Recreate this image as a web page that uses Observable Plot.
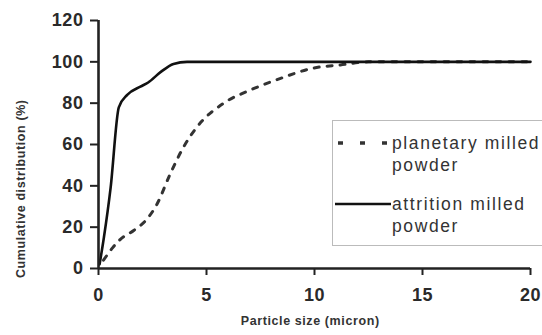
<!DOCTYPE html>
<html>
<head>
<meta charset="utf-8">
<script src="https://cdn.jsdelivr.net/npm/d3@7"></script>
<script src="https://cdn.jsdelivr.net/npm/@observablehq/plot@0.6"></script>
<style>
  html, body { margin: 0; padding: 0; background: #fff; }
  #wrap { position: relative; width: 542px; height: 335px; overflow: hidden; font-family: "Liberation Sans", Arial, sans-serif; }
  #legend { position: absolute; left: 332px; top: 120px; width: 230px; height: 126px; border: 1px solid #bbb; box-sizing: border-box; background: #fff; }
  .item { position: absolute; left: 0; font-size: 17.5px; letter-spacing: 1.6px; color: #333; line-height: 22px; }
  .item svg { position: absolute; left: 0px; }
  .item .lbl { position: absolute; left: 59px; white-space: nowrap; }
  svg text { letter-spacing: 0.6px; }
</style>
</head>
<body>
<div id="wrap"></div>
<script>
const attritionX = [0.05, 0.25, 0.56, 0.94, 1.33, 1.94, 2.3, 2.87, 3.47, 4.1, 6, 10, 15, 20];
const attritionY = [2, 15, 39, 78, 84, 88, 90, 95, 99, 100, 100, 100, 100, 100];
const planetaryX = [0.23, 0.65, 1.0, 1.63, 2.25, 2.7, 3.33, 3.95, 4.57, 5.8, 7.04, 8.43, 9.96, 11.2, 12.5, 15, 20];
const planetaryY = [4, 10, 14, 18.4, 24, 31, 46, 59, 68.6, 80, 86.4, 92, 97, 98.5, 100, 100, 100];
const xTicks = [0, 5, 10, 15, 20];
const yTicks = [0, 20, 40, 60, 80, 100, 120];
const seriesNames = ["planetary milled powder", "attrition milled powder"];

const attrition = attritionX.map((x, i) => ({x, y: attritionY[i]}));
const planetary = planetaryX.map((x, i) => ({x, y: planetaryY[i]}));

const chart = Plot.plot({
  width: 542,
  height: 335,
  marginLeft: 98,
  marginRight: 12,
  marginTop: 20,
  marginBottom: 67,
  style: {fontFamily: "'Liberation Sans', Arial, sans-serif", color: "#2a2a2a", background: "#fff"},
  x: {domain: [0, 20]},
  y: {domain: [0, 120]},
  marks: [
    Plot.line(planetary, {x: "x", y: "y", stroke: "#333", strokeWidth: 3, strokeDasharray: "5,8", curve: "monotone-x"}),
    Plot.line(attrition, {x: "x", y: "y", stroke: "#111", strokeWidth: 2.6, curve: "monotone-x"}),
    Plot.ruleY([0], {stroke: "#222", strokeWidth: 2.6}),
    Plot.ruleX([0], {stroke: "#222", strokeWidth: 2.6, y1: 0, y2: 120}),
    Plot.axisY({ticks: yTicks, tickSize: 8, tickPadding: 7, fontSize: 18, fontWeight: "bold", stroke: "#222", strokeWidth: 2, label: null}),
    Plot.axisX({ticks: xTicks, tickSize: 7, tickPadding: 13, fontSize: 18, fontWeight: "bold", stroke: "#222", strokeWidth: 2, label: null}),
    Plot.text(["Particle size (micron)"], {x: () => 9.8, y: () => -25.5, fontSize: 12.5, fontWeight: "bold", fill: "#333"}),
    Plot.text(["Cumulative distribution (%)"], {x: () => -3.6, y: () => 38.6, rotate: -90, fontSize: 12.5, fontWeight: "bold", fill: "#333"})
  ]
});

const wrap = document.getElementById("wrap");
wrap.appendChild(chart);

const legend = document.createElement("div");
legend.id = "legend";
legend.innerHTML = `
  <div class="item" style="top:11px">
    <svg width="58" height="22"><line x1="5" y1="11" x2="58" y2="11" stroke="#333" stroke-width="3.5" stroke-dasharray="5,17"/></svg>
    <div class="lbl">${seriesNames[0].replace("milled ", "milled<br>")}</div>
  </div>
  <div class="item" style="top:72px">
    <svg width="58" height="22"><line x1="2" y1="11" x2="58" y2="11" stroke="#111" stroke-width="2.6"/></svg>
    <div class="lbl">${seriesNames[1].replace("milled ", "milled<br>")}</div>
  </div>`;
wrap.appendChild(legend);
</script>
</body>
</html>
